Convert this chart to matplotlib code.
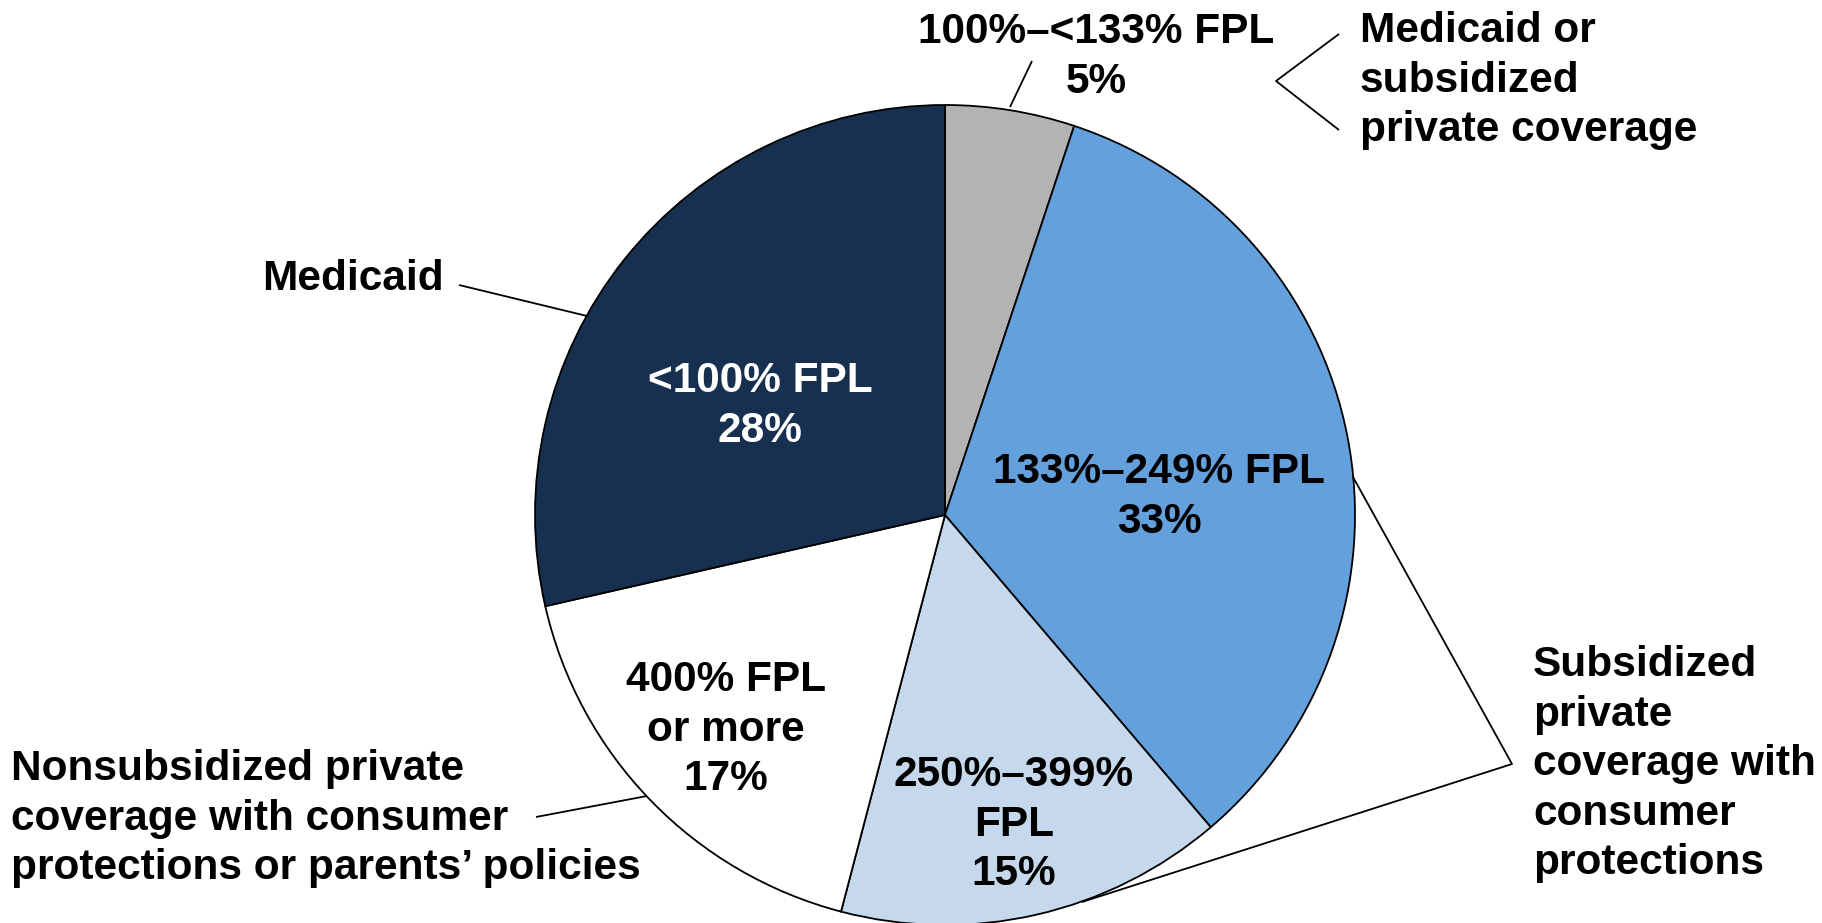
import matplotlib
matplotlib.use("Agg")
import matplotlib.pyplot as plt

# ---- data ----
slice_names = [["100%–<133% FPL"], ["133%–249% FPL"], ["250%–399%", "FPL"],
               ["400% FPL", "or more"], ["<100% FPL"]]
shares = [5, 33, 15, 17, 28]
slice_colors = ["#B3B3B3", "#64A0DC", "#C5D8EC", "#FFFFFF", "#17304F"]
label_colors = ["black", "black", "black", "black", "white"]
group_labels = [["Medicaid or", "subsidized", "private coverage"],
                ["Subsidized", "private", "coverage with", "consumer", "protections"],
                ["Nonsubsidized private", "coverage with consumer",
                 "protections or parents’ policies"],
                ["Medicaid"]]

W, H = 1822, 923
fig = plt.figure(figsize=(W / 100, H / 100), dpi=100)
ax = fig.add_axes([0, 0, 1, 1])


def Y(y):
    return H - y


cx, cy, R = 945, 515, 410
ax.pie(shares, colors=slice_colors, startangle=90, counterclock=False,
       center=(cx, Y(cy)), radius=R, frame=True,
       wedgeprops=dict(edgecolor="black", linewidth=1.3))
ax.set_xlim(0, W)
ax.set_ylim(0, H)
ax.set_aspect("equal")
ax.axis("off")

font = dict(family=["Liberation Sans", "Arimo", "DejaVu Sans"], weight="bold", fontsize=30.5)
PITCH = 49.6


def block(x, y0, lines, ha, color="black"):
    for i, s in enumerate(lines):
        ax.text(x, Y(y0 + i * PITCH), s, ha=ha, va="baseline", color=color, **font)


# slice labels: (x, first baseline)
slice_pos = [(1096, 43), (1159, 483), (1014, 786), (726, 691), (760, 392)]
for names, v, (x, y0), c in zip(slice_names, shares, slice_pos, label_colors):
    block(x, y0, names + [f"{v}%"], "center", c)

# group labels
block(1360, 42, group_labels[0], "left")
block(1533, 676, group_labels[1], "left")
block(11, 780, group_labels[2], "left")
block(262, 290, group_labels[3], "left")

lk = dict(color="black", linewidth=1.3, solid_capstyle="butt")
ax.plot([1010, 1032], [Y(107), Y(61)], **lk)
ax.plot([1339, 1276, 1339], [Y(34), Y(81), Y(130)], **lk)
ax.plot([1353, 1512, 1082], [Y(477), Y(764), Y(902)], **lk)
ax.plot([459, 587], [Y(285), Y(316)], **lk)
ax.plot([536, 647], [Y(817), Y(796)], **lk)

fig.savefig("out.png", dpi=100, facecolor="white")
